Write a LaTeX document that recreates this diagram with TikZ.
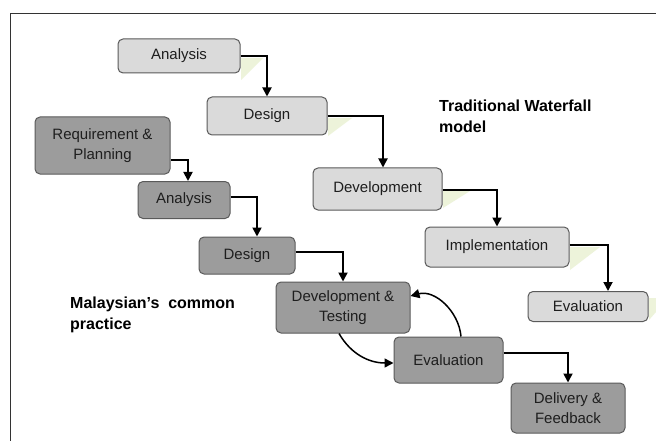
\documentclass[tikz,border=0pt]{standalone}
\usepackage{fontspec}
\setmainfont{Liberation Sans}
\usetikzlibrary{arrows.meta,calc}
\definecolor{lightbox}{HTML}{DADADA}
\definecolor{darkbox}{HTML}{9C9C9C}
\definecolor{boxline}{HTML}{5A5A5A}
\definecolor{boxtext}{HTML}{1E1E1E}
\definecolor{wedge}{HTML}{EDF3DA}
\tikzset{
  basebox/.style={draw=boxline, line width=1pt, rounded corners=5pt, align=center,
    text=boxtext, font=\fontsize{15}{20}\selectfont, inner sep=0pt, anchor=center},
  wfbox/.style={basebox, fill=lightbox},
  mybox/.style={basebox, fill=darkbox},
  conn/.style={draw=black, line width=1.8pt, -{Triangle[width=9pt,length=9pt]}},
  title/.style={font=\bfseries\fontsize{16}{21}\selectfont, align=left, anchor=north west, inner sep=0pt},
  shade/.style={fill=wedge, draw=none}
}
\begin{document}
\begin{tikzpicture}[x=1pt,y=-1pt]
\useasboundingbox (0,0) rectangle (656,441);
\fill[white] (0,0) rectangle (656,441);
% frame
\draw[line width=1pt, draw=black!80] (10,441) -- (10,14) -- (656,14);
% faint wedges
\fill[shade] (241,58) -- (263,58) -- (241,80) -- cycle;
\fill[shade] (328,118) -- (352,118) -- (328,136) -- cycle;
\fill[shade] (443,191) -- (470,191) -- (443,208) -- cycle;
\fill[shade] (570,247) -- (600,247) -- (570,270) -- cycle;
\fill[shade] (649,298) -- (656,298) -- (656,312) -- (649,320) -- cycle;
% waterfall boxes
\node[wfbox, minimum width=122pt, minimum height=34pt] (wa) at (179,56) {Analysis};
\node[wfbox, minimum width=120pt, minimum height=38pt] (wd) at (267,116) {Design};
\node[wfbox, minimum width=129pt, minimum height=42pt] (wdev) at (377.5,189) {Development};
\node[wfbox, minimum width=144pt, minimum height=40pt] (wi) at (497,247) {Implementation};
\node[wfbox, minimum width=120pt, minimum height=30pt] (we) at (588,306.5) {Evaluation};
% malaysian boxes
\node[mybox, minimum width=135pt, minimum height=57pt] (mr) at (102.5,145.5) {Requirement \&\\Planning};
\node[mybox, minimum width=92pt, minimum height=37pt] (ma) at (184,200) {Analysis};
\node[mybox, minimum width=96pt, minimum height=37pt] (md) at (247,255.5) {Design};
\node[mybox, minimum width=134pt, minimum height=51pt] (mdt) at (343,307.5) {Development \&\\Testing};
\node[mybox, minimum width=109pt, minimum height=46pt] (me) at (448.5,360) {Evaluation};
\node[mybox, minimum width=114pt, minimum height=50pt] (mdf) at (568,408) {Delivery \&\\Feedback};
% titles
\node[title] (t1) at (439,100) {Traditional Waterfall\\model};
\node[title] (t2) at (70,297) {Malaysian's\ \ common\\practice};
% waterfall connectors
\draw[conn] (wa.east) -| (wd.north);
\draw[conn] (wd.east) -| ([xshift=5.5pt]wdev.north);
\draw[conn] ([yshift=-1pt]wdev.east) -| (wi.north);
\draw[conn] ([yshift=2pt]wi.east) -| ([xshift=20pt]we.north);
% malaysian connectors
\draw[conn] ([yshift=-14.5pt]mr.east) -| ([xshift=4pt]ma.north);
\draw[conn] ([yshift=3pt]ma.east) -| ([xshift=10pt]md.north);
\draw[conn] ([yshift=3.5pt]md.east) -| (mdt.north);
\draw[conn] ([yshift=7pt]me.east) -| (mdf.north);
\draw[conn, line width=1.5pt] ([xshift=-4pt]mdt.south) to[out=-60,in=180] ([yshift=-3pt]me.west);
\draw[conn, line width=1.5pt] ([xshift=12.5pt]me.north) to[out=95,in=15] ([yshift=11.5pt]mdt.east);
\end{tikzpicture}
\end{document}
